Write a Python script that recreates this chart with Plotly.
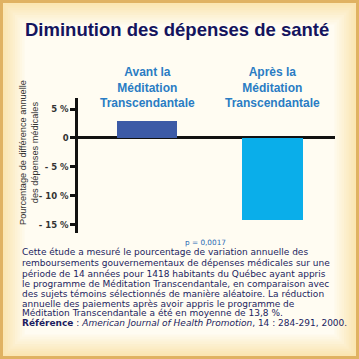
import plotly.graph_objects as go

# ---- data ----
categories = ["Avant la<br>Méditation<br>Transcendantale", "Après la<br>Méditation<br>Transcendantale"]
values = [2.9, -14.2]
bar_colors = ["#3c5aa6", "#0aaeea"]
tick_vals = [5, 0, -5, -10, -15]
tick_text = ["5 %", "0", "- 5 %", "- 10 %", "- 15 %"]
title_text = "Diminution des dépenses de santé"
yaxis_title = "Pourcentage de différence annuelle<br>des dépenses médicales"
p_text = "p = 0,0017"
paragraph = [
    "Cette étude a mesuré le pourcentage de variation annuelle des",
    "remboursements gouvernementaux de dépenses médicales sur une",
    "période de 14 années pour 1418 habitants du Québec ayant appris",
    "le programme de Méditation Transcendantale, en comparaison avec",
    "des sujets témoins sélectionnés de manière aléatoire. La réduction",
    "annuelle des paiements après avoir appris le programme de",
    "Méditation Transcendantale a été en moyenne de 13,8 %.",
    "<b>Référence</b> : <i>American Journal of Health Promotion</i>, 14 : 284-291, 2000.",
]

W, H = 359, 359
L, R, T, B = 78, 335, 98, 233  # plot area pixels


def px(x):
    return (x - L) / (R - L)


def py(y):
    return (B - y) / (B - T)


xpos = list(range(len(categories)))

fig = go.Figure()
fig.add_trace(go.Bar(x=xpos, y=values, marker=dict(color=bar_colors, line=dict(width=0)),
                     width=0.48, showlegend=False, hoverinfo="skip"))

shapes = []
# background glow
edge = (251, 230, 178)
center = (255, 252, 242)
n = 10
for i in range(n):
    t = i / (n - 1)
    c = tuple(int(edge[k] + (center[k] - edge[k]) * t) for k in range(3))
    ins = 3 + i * 2.4
    shapes.append(dict(type="rect", xref="paper", yref="paper", layer="below",
                       x0=px(ins), x1=px(W - ins), y0=py(H - ins), y1=py(ins),
                       line=dict(width=0), fillcolor="rgb(%d,%d,%d)" % c))
# border
shapes.append(dict(type="rect", xref="paper", yref="paper", layer="above",
                   x0=px(1.5), x1=px(W - 1.5), y0=py(H - 1.5), y1=py(1.5),
                   line=dict(color="#e0b262", width=3), fillcolor="rgba(0,0,0,0)"))

annotations = []
annotations.append(dict(text="<b>%s</b>" % title_text, xref="paper", yref="paper",
                        x=px(177), y=py(30), showarrow=False, xanchor="center", yanchor="middle",
                        font=dict(family="Liberation Sans", size=18.5, color="#14145e")))
annotations.append(dict(text=yaxis_title, xref="paper", yref="paper", textangle=-90,
                        x=px(29), y=py(153), showarrow=False, xanchor="center", yanchor="middle",
                        font=dict(family="Liberation Sans", size=9.2, color="#333333")))
for i, c in enumerate(categories):
    annotations.append(dict(text="<b>%s</b>" % c, xref="x", yref="paper", x=xpos[i], y=py(88),
                            showarrow=False, xanchor="center", yanchor="middle",
                            font=dict(family="Liberation Sans", size=12, color="#2a7cc4")))
annotations.append(dict(text=p_text, xref="paper", yref="paper", x=px(205), y=py(242),
                        showarrow=False, xanchor="center", yanchor="middle",
                        font=dict(family="DejaVu Sans", size=7.3, color="#2a6ab4")))
line_y = [252.3, 263.3, 274, 284, 294.3, 304, 313.3, 323.3]
for txt, yy in zip(paragraph, line_y):
    annotations.append(dict(text=txt, xref="paper", yref="paper", x=px(20), y=py(yy),
                            showarrow=False, xanchor="left", yanchor="middle",
                            font=dict(family="DejaVu Sans", size=9.0, color="#1c1c60")))

fig.update_layout(
    width=W, height=H,
    margin=dict(l=L, r=W - R, t=T, b=H - B, pad=0),
    paper_bgcolor="#fbe6b4", plot_bgcolor="rgba(0,0,0,0)",
    shapes=shapes, annotations=annotations,
    xaxis=dict(range=[-0.55, 1.498], showticklabels=False, showgrid=False, zeroline=False,
               showline=False, ticks="", fixedrange=True),
    yaxis=dict(range=[-16.4, 6.9], tickvals=tick_vals, ticktext=tick_text, showgrid=False,
               zeroline=True, zerolinecolor="#111111", zerolinewidth=2.5,
               showline=True, linecolor="#111111", linewidth=2.5,
               ticks="outside", ticklen=5, tickwidth=2.5, tickcolor="#111111",
               tickfont=dict(family="DejaVu Sans", size=8.5, color="#333333", weight="bold"),
               fixedrange=True),
    bargap=0,
)

fig.write_html("out.html", config={"displayModeBar": False})
